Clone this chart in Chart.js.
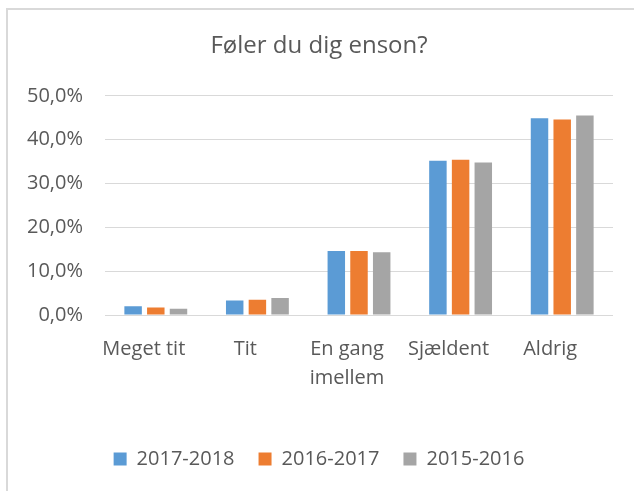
<!DOCTYPE html>
<html>
<head>
<meta charset="utf-8">
<script src="https://cdn.jsdelivr.net/npm/chart.js@4"></script>
<style>
	body { margin: 0; background: #fff; }
	#frame { position: absolute; left: 6px; top: 8px; width: 700px; height: 600px; border-left: 2px solid #d9d9d9; border-top: 2px solid #d9d9d9; }
	#wrap { position: absolute; left: 0; top: 0; width: 634px; height: 491px; }
</style>
</head>
<body>
<div id="frame"></div>
<div id="wrap"><canvas id="myChart" width="634" height="491"></canvas></div>
<script>
const labels = ['Meget tit', 'Tit', ['En gang', 'imellem'], 'Sjældent', 'Aldrig'];
const seriesNames = ['2017-2018', '2016-2017', '2015-2016'];
const values2017 = [2.0, 3.3, 14.6, 35.2, 44.9];
const values2016 = [1.7, 3.5, 14.6, 35.4, 44.6];
const values2015 = [1.4, 3.9, 14.3, 34.8, 45.5];
const colors = ['#5B9BD5', '#ED7D31', '#A5A5A5'];

var textColor = '#595959';
var gridColor = '#d9d9d9';

function makeDataset(i, data) {
	return {
		label: seriesNames[i],
		data: data,
		backgroundColor: colors[i],
		borderWidth: 0,
		categoryPercentage: 0.67,
		barPercentage: 0.77
	};
}

var config = {
	type: 'bar',
	data: {
		labels: labels,
		datasets: [
			makeDataset(0, values2017),
			makeDataset(1, values2016),
			makeDataset(2, values2015)
		]
	},
	options: {
		responsive: false,
		animation: false,
		layout: { padding: { left: 25, right: 21, top: 0, bottom: 12 } },
		plugins: {
			title: {
				display: true,
				text: 'Føler du dig enson?',
				color: textColor,
				font: { family: 'Open Sans', size: 24, weight: 'normal', lineHeight: 1.2 },
				padding: { top: 32, bottom: 35 }
			},
			legend: {
				display: true,
				position: 'bottom',
				labels: {
					color: textColor,
					font: { family: 'Open Sans', size: 20 },
					boxWidth: 13,
					boxHeight: 13,
					padding: 24
				}
			},
			tooltip: { enabled: false }
		},
		scales: {
			x: {
				grid: { display: false },
				border: { display: false },
				ticks: {
					color: textColor,
					font: { family: 'Open Sans', size: 20, lineHeight: 1.45 },
					padding: 12,
					labelOffset: -12,
					maxRotation: 0,
					autoSkip: false
				},
				afterFit: function (scale) { scale.height = 110; }
			},
			y: {
				min: 0,
				max: 50,
				grid: { color: gridColor, lineWidth: 1, drawTicks: false },
				border: { display: false },
				ticks: {
					stepSize: 10,
					color: textColor,
					font: { family: 'Open Sans', size: 20 },
					padding: 22,
					callback: function (v) { return v.toFixed(1).replace('.', ',') + '%'; }
				},
				afterFit: function (scale) { scale.width = 80; }
			}
		}
	}
};

var ctx = document.getElementById('myChart').getContext('2d');
var covidChart = new Chart(ctx, config);
</script>
</body>
</html>
